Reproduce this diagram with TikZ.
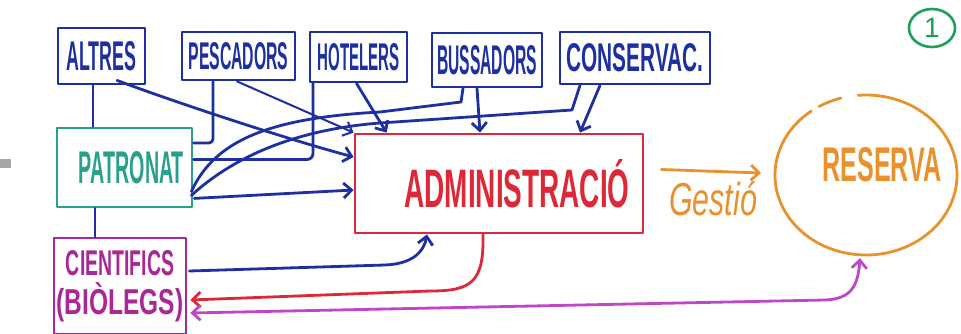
\documentclass[tikz,border=0pt]{standalone}
\usepackage{graphicx}
\usepackage{fontspec}
\setmainfont{Liberation Sans}
\usetikzlibrary{arrows.meta,calc,shapes.geometric}
\definecolor{hwblue}{RGB}{30,48,160}
\definecolor{hwteal}{RGB}{40,160,140}
\definecolor{hwmag}{RGB}{170,40,150}
\definecolor{hwpurple}{RGB}{190,70,200}
\definecolor{hwred}{RGB}{220,40,55}
\definecolor{hworange}{RGB}{232,145,45}
\definecolor{hwgreen}{RGB}{30,160,90}
\newcommand\hw[3]{\resizebox{#1}{#2}{\bfseries #3}}
\begin{document}
\begin{tikzpicture}[x=1pt,y=-1pt,
  box/.style={draw, line width=2.8pt, inner sep=0pt, line join=round},
  conn/.style={line width=2.8pt, hwblue, line cap=round, line join=round},
  arr/.style={-{Straight Barb[length=8pt,width=15pt]}},
  barb/.style={{Straight Barb[length=8pt,width=15pt]}-{Straight Barb[length=8pt,width=15pt]}}
]
\useasboundingbox (0,0) rectangle (961,334);
\fill[white] (0,0) rectangle (961,334);
\fill[black!35] (0,159) rectangle (11,168);

% boxes
\node[box, hwblue, minimum width=87pt, minimum height=56pt] (altres) at (101.5,56) {\hw{70pt}{29pt}{ALTRES}};
\node[box, hwblue, minimum width=113pt, minimum height=48pt] (pescadors) at (238.5,56) {\hw{100pt}{27pt}{PESCADORS}};
\node[box, hwblue, minimum width=97pt, minimum height=50pt] (hotelers) at (358.5,57) {\hw{82pt}{27pt}{HOTELERS}};
\node[box, hwblue, minimum width=110pt, minimum height=54pt] (bussadors) at (487,60) {\hw{100pt}{29pt}{BUSSADORS}};
\node[box, hwblue, minimum width=150pt, minimum height=52pt] (conservac) at (635,58) {\hw{137pt}{28pt}{CONSERVAC.}};
\node[box, hwteal, minimum width=135pt, minimum height=79pt] (patronat) at (124.5,167.5) {\hspace*{14pt}\hw{105pt}{32pt}{PATRONAT}};
\node[box, hwmag, minimum width=132pt, minimum height=96pt, align=center] (cientifics) at (120,286) {\hw{108pt}{25pt}{CIENTIFICS}\\[6pt]\scalebox{0.68}[1]{\fontsize{36pt}{36pt}\selectfont\bfseries (BIÒLEGS)}};
\node[box, hwred, minimum width=288pt, minimum height=99pt] (admin) at (499,183.5) {\hspace*{36pt}\hw{225pt}{48pt}{ADMINISTRACIÓ}};
\node[ellipse, minimum width=182pt, minimum height=160pt, inner sep=0pt, text=hworange] (reserva) at (866,175) {\hspace*{32pt}\raisebox{22pt}{\hw{119pt}{34pt}{RESERVA}}};
\draw[hworange, line width=2.8pt, line cap=round] ($(reserva.center)+({91*cos(127)},{-80*sin(127)})$) arc[start angle=127, end angle=455, x radius=91pt, y radius=80pt];
\draw[hworange, line width=2.8pt, line cap=round] ($(reserva.center)+({91*cos(121)},{-80*sin(121)})$) arc[start angle=121, end angle=106, x radius=91pt, y radius=80pt];
\node[ellipse, draw, hwgreen, line width=2.6pt, minimum width=46pt, minimum height=38pt, inner sep=0pt] (one) at (932,28) {\fontsize{28pt}{28pt}\selectfont 1};
\node[text=hworange] (gestio) at (713,199) {\resizebox{88pt}{34pt}{\itshape Gestió}};

% connectors
\draw[conn] ([xshift=-8.5pt]altres.south) -- ([xshift=-8.5pt]altres.south |- patronat.north);
\draw[conn] ([xshift=-29.5pt]patronat.south) -- ([xshift=-29.5pt]patronat.south |- cientifics.north);
\draw[conn, arr] ([xshift=15.5pt, yshift=5pt]altres.south) .. controls (180,104) and (290,140) .. ($(admin.west)+(0,-26.5)$);
\draw[conn, arr, line width=2pt] ([xshift=-1.5pt]pescadors.south) -- (admin.north west);
\draw[conn, rounded corners=4pt] ([xshift=-25.5pt]pescadors.south) |- ($(patronat.east)+(0,-24.5)$);
\draw[conn, rounded corners=6pt] ([xshift=-45.5pt]hotelers.south) |- ($(patronat.east)+(0,-8)$);
\draw[conn, arr] ([xshift=-2pt]hotelers.south) -- ($(admin.north west)+(33,0)$);
\draw[conn] ([xshift=-24pt]bussadors.south) -- (461,102) -- (380,112) .. controls (270,118) and (215,140) .. ($(patronat.south east)+(-2,-17)$);
\draw[conn] ([xshift=-55pt]conservac.south) -- (572,110) -- (380,123) .. controls (290,130) and (230,160) .. ($(patronat.south east)+(-2,-13)$);
\draw[conn, arr] ([xshift=-10pt]bussadors.south) -- ($(admin.north)+(-19,0)$);
\draw[conn, arr] ([xshift=-35pt]conservac.south) -- ($(admin.north)+(81,0)$);
\draw[conn, arr] ($(patronat.south east)+(1,-10)$) -- ($(admin.west)+(0,6.5)$);
\draw[conn, arr] ($(cientifics.east)+(2,-15)$) -- (385,265) .. controls (412,264) and (424,252) .. ($(admin.south)+(-72,0)$);
\draw[conn, hwred, arr] ($(admin.south)+(-16,0)$) .. controls (484,282) and (472,291) .. (430,291) -- ($(cientifics.east)+(3,14)$);
\draw[conn, hwpurple, barb] ($(cientifics.east)+(3,27)$) -- (825,300) .. controls (852,299) and (858,285) .. ($(reserva.south)+(-6,3)$);
\draw[conn, hworange, arr] ($(admin.east)+(17,-14)$) -- ($(reserva.west)+(2,-2)$);
\end{tikzpicture}
\end{document}
